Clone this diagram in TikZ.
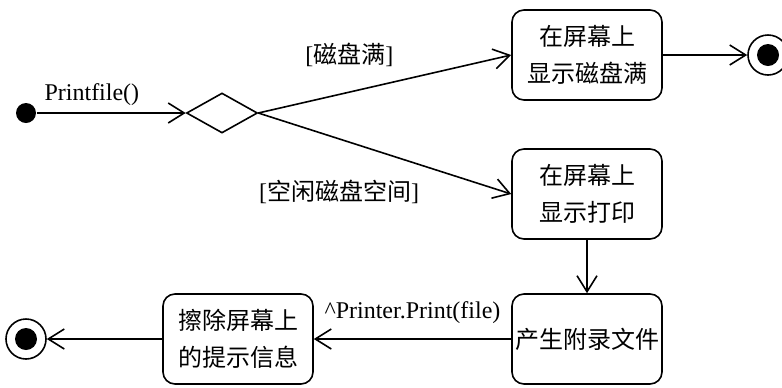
\documentclass[tikz,border=0pt]{standalone}
\usepackage{fontspec}
\setmainfont{Liberation Serif}
\newfontfamily\cjk{Noto Sans CJK SC}
\usetikzlibrary{arrows.meta,shapes.geometric}

\tikzset{
  action/.style={rectangle,rounded corners=6pt,draw,align=center,
    minimum width=75pt,minimum height=45pt,inner sep=1pt,
    font=\cjk\fontsize{12}{18.5}\selectfont},
  choice/.style={diamond,draw,minimum width=35.5pt,minimum height=20pt,inner sep=0pt},
  startdot/.style={circle,fill,minimum size=10pt,inner sep=0pt},
  enddot/.style={circle,draw,minimum size=20pt,inner sep=0pt,
    path picture={\fill (path picture bounding box.center) circle (5.5pt);}}
}

\begin{document}
\begin{tikzpicture}[->,>={Straight Barb[length=8pt,width=10pt]},auto,
  x=0.5pt,y=-0.5pt,line width=0.8pt,font=\fontsize{12}{14}\selectfont]
  \useasboundingbox (0,0) rectangle (782,387);

  \node[startdot] (S)  at (26,113) {};
  \node[choice]   (D)  [right of=S, node distance=98pt] {};
  \node[action]   (B1) at (587,55) {在屏幕上\\显示磁盘满};
  \node[action]   (B2) [below of=B1, node distance=69.5pt] {在屏幕上\\显示打印};
  \node[action]   (B3) [below of=B2, node distance=72.5pt] {产生附录文件};
  \node[action]   (B4) [left of=B3, node distance=174.5pt] {擦除屏幕上\\的提示信息};
  \node[enddot]   (E1) [right of=B1, node distance=90.5pt] {};
  \node[enddot]   (E2) [left of=B4, node distance=106pt] {};

  \path (S)  edge node[pos=0.37,above=0pt] {Printfile()} (D.west)
        (D.east) edge node[pos=0.36,above=9pt] {[{\cjk 磁盘满}]} (B1.west)
             edge node[pos=0.32,below=17pt] {[{\cjk 空闲磁盘空间}]} (B2.west)
        (B1) edge (E1)
        (B2) edge (B3)
        (B3) edge node[above=4pt] {\^{}Printer.Print(file)} (B4)
        (B4) edge (E2)
        ;
\end{tikzpicture}
\end{document}
